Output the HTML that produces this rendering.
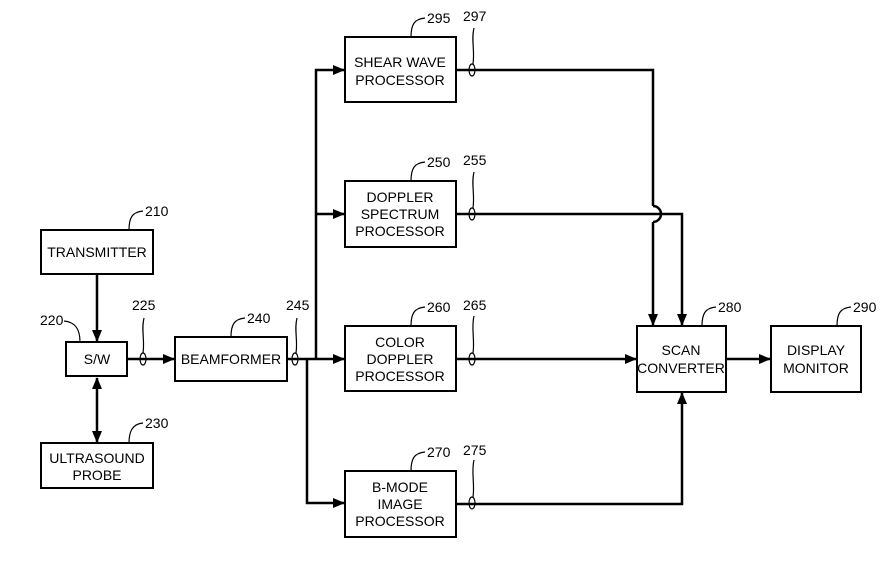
<!DOCTYPE html>
<html><head><meta charset="utf-8"><style>
html,body{margin:0;padding:0;background:#fff;}
svg text{font-family:"Liberation Sans Narrow","Liberation Sans",sans-serif;font-size:14px;fill:#000;}
</style></head><body>
<svg width="887" height="578" viewBox="0 0 887 578" xmlns="http://www.w3.org/2000/svg">
<defs>
<marker id="a" markerWidth="12" markerHeight="10" refX="11" refY="5" orient="auto" markerUnits="userSpaceOnUse">
<path d="M0,0 L12,5 L0,10 Z" fill="#000"/></marker>
<marker id="s" markerWidth="12" markerHeight="10" refX="1" refY="5" orient="auto" markerUnits="userSpaceOnUse">
<path d="M12,0 L0,5 L12,10 Z" fill="#000"/></marker>
</defs>
<g fill="none" stroke="#000" stroke-width="2">
<rect x="41" y="230" width="112" height="44"/>
<rect x="66" y="342" width="61" height="34"/>
<rect x="41" y="443" width="112" height="45"/>
<rect x="175" y="337" width="112" height="44"/>
<rect x="345" y="37" width="111" height="65"/>
<rect x="345" y="181" width="111" height="66"/>
<rect x="345" y="326" width="111" height="65"/>
<rect x="345" y="471" width="111" height="66"/>
<rect x="637" y="326" width="89" height="66"/>
<rect x="771" y="326" width="90" height="66"/>
</g>
<g fill="none" stroke="#000" stroke-width="2.5">
<line x1="97" y1="274" x2="97" y2="341" marker-end="url(#a)"/>
<line x1="97" y1="378" x2="97" y2="442" marker-start="url(#s)" marker-end="url(#a)"/>
<line x1="127" y1="359" x2="174" y2="359" marker-end="url(#a)"/>
<line x1="287" y1="359" x2="344" y2="359" marker-end="url(#a)"/>
<polyline points="316,359 316,70 344,70" marker-end="url(#a)"/>
<line x1="316" y1="214" x2="344" y2="214" marker-end="url(#a)"/>
<polyline points="307,359 307,503 344,503" marker-end="url(#a)"/>
<polyline points="456,70 653,70 653,206 M653,222 653,325" />
<path d="M653,206 A8,8 0 0 1 653,222" />
<line x1="653" y1="222" x2="653" y2="325" marker-end="url(#a)"/>
<polyline points="456,214 682,214 682,325" marker-end="url(#a)"/>
<line x1="456" y1="359" x2="636" y2="359" marker-end="url(#a)"/>
<polyline points="456,504 682,504 682,393" marker-end="url(#a)"/>
<line x1="726" y1="359" x2="770" y2="359" marker-end="url(#a)"/>
</g>
<g fill="none" stroke="#000" stroke-width="1.2">
<ellipse cx="143" cy="359" rx="3" ry="6"/>
<ellipse cx="295" cy="359" rx="3" ry="6"/>
<ellipse cx="472" cy="70" rx="3" ry="6"/>
<ellipse cx="472" cy="214" rx="3" ry="6"/>
<ellipse cx="472" cy="359" rx="3" ry="6"/>
<ellipse cx="472" cy="503" rx="3" ry="6"/>
<path d="M143,353 C145,340 141,330 144,318"/>
<path d="M296,353 C298,340 294,330 297,318"/>
<path d="M473,64 C475,50 471,40 474,28"/>
<path d="M473,208 C475,194 471,184 474,172"/>
<path d="M473,353 C475,340 471,328 474,316"/>
<path d="M473,497 C475,484 471,472 474,460"/>
<path d="M129,230 C129,218 132,212 143,211"/>
<path d="M80,342 C80,330 76,322 64,321"/>
<path d="M129,443 C129,432 132,424 143,423"/>
<path d="M231,337 C231,325 234,319 245,318"/>
<path d="M411,37 C411,25 414,19 425,18"/>
<path d="M411,181 C411,169 414,163 425,162"/>
<path d="M411,326 C411,314 414,308 425,307"/>
<path d="M411,471 C411,459 414,453 425,452"/>
<path d="M702,326 C702,314 705,308 716,307"/>
<path d="M837,326 C837,314 840,308 851,307"/>
</g>
<g text-anchor="middle">
<text x="97" y="257">TRANSMITTER</text>
<text x="97" y="364">S/W</text>
<text x="97" y="463">ULTRASOUND</text><text x="97" y="480">PROBE</text>
<text x="231" y="364">BEAMFORMER</text>
<text x="400" y="67">SHEAR  WAVE</text><text x="400" y="85">PROCESSOR</text>
<text x="400" y="202">DOPPLER</text><text x="400" y="219">SPECTRUM</text><text x="400" y="236">PROCESSOR</text>
<text x="400" y="347">COLOR</text><text x="400" y="364">DOPPLER</text><text x="400" y="381">PROCESSOR</text>
<text x="400" y="492">B-MODE</text><text x="400" y="509">IMAGE</text><text x="400" y="526">PROCESSOR</text>
<text x="681" y="355">SCAN</text><text x="681" y="373">CONVERTER</text>
<text x="816" y="355">DISPLAY</text><text x="816" y="373">MONITOR</text>
</g>
<g>
<text x="145" y="216">210</text>
<text x="40" y="325">220</text>
<text x="132" y="310">225</text>
<text x="145" y="428">230</text>
<text x="247" y="323">240</text>
<text x="286" y="310">245</text>
<text x="427" y="23">295</text>
<text x="463" y="21">297</text>
<text x="427" y="167">250</text>
<text x="463" y="165">255</text>
<text x="427" y="312">260</text>
<text x="463" y="310">265</text>
<text x="427" y="457">270</text>
<text x="463" y="455">275</text>
<text x="718" y="312">280</text>
<text x="853" y="312">290</text>
</g>
</svg>
</body></html>
